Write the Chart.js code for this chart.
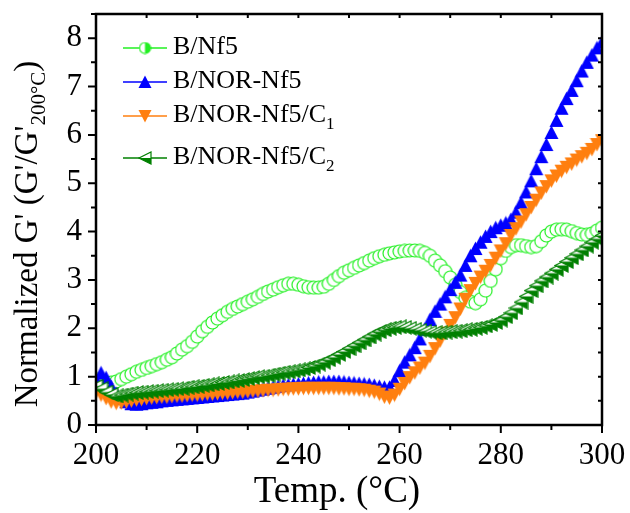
<!DOCTYPE html>
<html>
<head>
<meta charset="utf-8">
<title>Normalized G' vs temperature</title>
<script src="https://cdn.jsdelivr.net/npm/chart.js@4.4.0/dist/chart.umd.min.js"></script>
<style>
    html, body { margin: 0; padding: 0; background: #fff; }
    #wrap { width: 630px; height: 513px; }
</style>
</head>
<body>
<div id="wrap"><canvas id="modulusChart" width="630" height="513"></canvas></div>
<script>
// Temperature sweep, one reading per degree
const temps = Array.from({ length: 101 }, (_, i) => 200 + i);

const xTicks = [200, 220, 240, 260, 280, 300];
const yTicks = [0, 1, 2, 3, 4, 5, 6, 7, 8];

const seriesNames = ['B/Nf5', 'B/NOR-Nf5', 'B/NOR-Nf5/C', 'B/NOR-Nf5/C'];
const seriesSubs = ['', '', '1', '2'];

const bNf5 = [
    0.95, 0.92, 0.88, 0.88, 0.90, 0.95, 1.00, 1.05, 1.10, 1.14,
    1.18, 1.22, 1.26, 1.30, 1.35, 1.40, 1.48, 1.56, 1.63, 1.72,
    1.83, 1.94, 2.03, 2.12, 2.20, 2.27, 2.34, 2.40, 2.45, 2.50,
    2.55, 2.60, 2.65, 2.71, 2.76, 2.80, 2.85, 2.89, 2.92, 2.92,
    2.90, 2.87, 2.85, 2.84, 2.84, 2.86, 2.92, 3.00, 3.08, 3.15,
    3.20, 3.25, 3.30, 3.35, 3.40, 3.45, 3.49, 3.52, 3.55, 3.57,
    3.59, 3.60, 3.61, 3.61, 3.60, 3.56, 3.50, 3.40, 3.30, 3.18,
    3.05, 2.90, 2.75, 2.63, 2.55, 2.52, 2.60, 2.78, 2.98, 3.22,
    3.45, 3.60, 3.68, 3.72, 3.72, 3.70, 3.68, 3.70, 3.80, 3.92,
    4.00, 4.04, 4.05, 4.04, 4.01, 3.97, 3.94, 3.93, 3.96, 4.02,
    4.08
];

const bNorNf5 = [
    0.95, 1.08, 0.98, 0.80, 0.65, 0.55, 0.48, 0.44, 0.43, 0.44,
    0.46, 0.47, 0.48, 0.50, 0.51, 0.52, 0.53, 0.54, 0.55, 0.56,
    0.57, 0.58, 0.59, 0.60, 0.61, 0.62, 0.63, 0.64, 0.65, 0.66,
    0.68, 0.70, 0.72, 0.74, 0.76, 0.78, 0.80, 0.82, 0.83, 0.84,
    0.85, 0.86, 0.87, 0.88, 0.89, 0.89, 0.90, 0.90, 0.90, 0.89,
    0.88, 0.87, 0.86, 0.85, 0.84, 0.82, 0.80, 0.78, 0.78, 0.92,
    1.12, 1.30, 1.45, 1.60, 1.78, 1.98, 2.18, 2.35, 2.50, 2.65,
    2.80, 2.95, 3.10, 3.30, 3.50, 3.65, 3.78, 3.90, 4.00, 4.08,
    4.13, 4.18, 4.25, 4.40, 4.60, 4.82, 5.05, 5.30, 5.55, 5.80,
    6.05, 6.30, 6.55, 6.75, 6.92, 7.12, 7.32, 7.50, 7.65, 7.80,
    7.92
];

const bNorNf5C1 = [
    0.68, 0.62, 0.55, 0.48, 0.45, 0.46, 0.48, 0.50, 0.52, 0.53,
    0.55, 0.56, 0.57, 0.58, 0.58, 0.59, 0.60, 0.60, 0.61, 0.62,
    0.62, 0.63, 0.64, 0.64, 0.65, 0.66, 0.66, 0.67, 0.68, 0.68,
    0.69, 0.70, 0.70, 0.71, 0.72, 0.72, 0.73, 0.74, 0.74, 0.75,
    0.75, 0.76, 0.76, 0.76, 0.76, 0.76, 0.76, 0.76, 0.75, 0.75,
    0.74, 0.74, 0.73, 0.72, 0.70, 0.68, 0.64, 0.58, 0.56, 0.62,
    0.74, 0.86, 0.98, 1.08, 1.18, 1.28, 1.42, 1.58, 1.74, 1.90,
    2.06, 2.22, 2.40, 2.60, 2.78, 2.93, 3.06, 3.18, 3.30, 3.45,
    3.60, 3.75, 3.92, 4.06, 4.20, 4.35, 4.50, 4.65, 4.80, 4.93,
    5.05, 5.15, 5.25, 5.33, 5.40, 5.48, 5.55, 5.62, 5.70, 5.80,
    5.88
];

const bNorNf5C2 = [
    0.80, 0.75, 0.68, 0.63, 0.60, 0.62, 0.64, 0.66, 0.67, 0.68,
    0.69, 0.70, 0.71, 0.72, 0.73, 0.74, 0.75, 0.76, 0.78, 0.79,
    0.80, 0.82, 0.83, 0.85, 0.86, 0.88, 0.89, 0.91, 0.92, 0.94,
    0.96, 0.98, 1.00, 1.01, 1.03, 1.05, 1.07, 1.09, 1.10, 1.12,
    1.14, 1.16, 1.19, 1.22, 1.26, 1.30, 1.35, 1.40, 1.46, 1.52,
    1.58, 1.64, 1.70, 1.76, 1.82, 1.88, 1.93, 1.97, 2.00, 2.02,
    2.03, 2.02, 2.00, 1.98, 1.96, 1.94, 1.92, 1.91, 1.91, 1.92,
    1.93, 1.94, 1.95, 1.97, 1.98, 2.00, 2.02, 2.05, 2.08, 2.12,
    2.17, 2.24, 2.32, 2.42, 2.54, 2.66, 2.78, 2.88, 2.98, 3.06,
    3.14, 3.22, 3.30, 3.38, 3.46, 3.54, 3.62, 3.70, 3.78, 3.85,
    3.92
];

const colors = ['#22f022', '#0000ff', '#ff7f0f', '#008000'];
const SERIF = '"Liberation Serif", "Times New Roman", serif';

// Marker sprites drawn once and handed to Chart.js as pointStyle
function makeMarker(size, draw) {
    const c = document.createElement('canvas');
    c.width = size;
    c.height = size;
    draw(c.getContext('2d'), size);
    return c;
}

function circleMarker(size, halfFill) {
    return makeMarker(size, function(ctx, s) {
        const c = s / 2, r = s / 2 - 1;
        ctx.fillStyle = '#fff';
        ctx.beginPath(); ctx.arc(c, c, r, 0, Math.PI * 2); ctx.fill();
        if (halfFill) {
            ctx.fillStyle = colors[0];
            ctx.beginPath(); ctx.arc(c, c, r, -Math.PI / 2, Math.PI / 2); ctx.closePath(); ctx.fill();
        }
        ctx.strokeStyle = colors[0]; ctx.lineWidth = 1.2;
        ctx.beginPath(); ctx.arc(c, c, r, 0, Math.PI * 2); ctx.stroke();
    });
}

function triUp(size) {
    return makeMarker(size, function(ctx, s) {
        ctx.fillStyle = colors[1];
        ctx.beginPath(); ctx.moveTo(s / 2, 0.5); ctx.lineTo(s - 0.5, s - 1); ctx.lineTo(0.5, s - 1); ctx.closePath(); ctx.fill();
    });
}

function triDown(size) {
    return makeMarker(size, function(ctx, s) {
        ctx.fillStyle = colors[2];
        ctx.beginPath(); ctx.moveTo(0.5, 1); ctx.lineTo(s - 0.5, 1); ctx.lineTo(s / 2, s - 0.5); ctx.closePath(); ctx.fill();
    });
}

function triLeftHalf(size) {
    return makeMarker(size, function(ctx, s) {
        const m = s / 2;
        ctx.fillStyle = '#fff';
        ctx.beginPath(); ctx.moveTo(1, m); ctx.lineTo(s - 1, 1); ctx.lineTo(s - 1, s - 1); ctx.closePath(); ctx.fill();
        ctx.fillStyle = colors[3];
        ctx.beginPath(); ctx.moveTo(1, m); ctx.lineTo(s - 1, m); ctx.lineTo(s - 1, s - 1); ctx.closePath(); ctx.fill();
        ctx.strokeStyle = colors[3]; ctx.lineWidth = 1.2;
        ctx.beginPath(); ctx.moveTo(1, m); ctx.lineTo(s - 1, 1); ctx.lineTo(s - 1, s - 1); ctx.closePath(); ctx.stroke();
    });
}

const plotMarkers = [circleMarker(15, false), triUp(15), triDown(15), triLeftHalf(15)];
const legendMarkers = [circleMarker(13, true), triUp(14), triDown(14), triLeftHalf(14)];

function toPoints(values) {
    return temps.map((t, i) => ({ x: t, y: values[i] }));
}

// Frame, minor/major tick marks, axis titles and the inset legend
const decorations = {
    id: 'decorations',
    afterDatasetsDraw(chart) {
        const ctx = chart.ctx;
        const area = chart.chartArea;
        const xs = chart.scales.x;
        const ys = chart.scales.y;
        ctx.save();
        ctx.strokeStyle = '#000';
        ctx.lineWidth = 2.5;
        ctx.strokeRect(area.left, area.top, area.right - area.left, area.bottom - area.top);

        ctx.lineWidth = 2;
        ctx.beginPath();
        for (let t = 200; t <= 300; t += 10) {
            const px = xs.getPixelForValue(t);
            const major = t % 20 === 0;
            ctx.moveTo(px, area.bottom);
            ctx.lineTo(px, area.bottom + (major ? 8 : 5));
            ctx.moveTo(px, area.top);
            ctx.lineTo(px, area.top + 4);
        }
        for (let v = 0; v <= 8.5; v += 0.5) {
            const py = ys.getPixelForValue(v);
            const major = v % 1 === 0;
            ctx.moveTo(area.left, py);
            ctx.lineTo(area.left - (major ? 8 : 5), py);
            ctx.moveTo(area.right, py);
            ctx.lineTo(area.right - 4, py);
        }
        ctx.stroke();

        // x title
        ctx.fillStyle = '#000';
        ctx.font = '37px ' + SERIF;
        ctx.textAlign = 'center';
        ctx.textBaseline = 'middle';
        ctx.fillText('Temp. (°C)', 337, 492);

        // y title with subscript, rotated
        const main = "Normalized G' (G'/G'";
        const sub = '200°C';
        const tail = ')';
        ctx.font = '33px ' + SERIF;
        const wMain = ctx.measureText(main).width;
        const wTail = ctx.measureText(tail).width;
        ctx.font = '21px ' + SERIF;
        const wSub = ctx.measureText(sub).width;
        const total = wMain + wSub + wTail;
        ctx.translate(37, 234);
        ctx.rotate(-Math.PI / 2);
        ctx.textAlign = 'left';
        ctx.textBaseline = 'alphabetic';
        const x0 = -total / 2;
        ctx.font = '33px ' + SERIF;
        ctx.fillText(main, x0, 0);
        ctx.font = '21px ' + SERIF;
        ctx.fillText(sub, x0 + wMain, 8);
        ctx.font = '33px ' + SERIF;
        ctx.fillText(tail, x0 + wMain + wSub, 0);
        ctx.restore();

        // legend
        const rowY = [48, 82, 116, 158];
        ctx.save();
        ctx.textAlign = 'left';
        ctx.textBaseline = 'middle';
        seriesNames.forEach(function(name, i) {
            const y = rowY[i];
            const mk = legendMarkers[i];
            ctx.strokeStyle = colors[i];
            ctx.lineWidth = 1.5;
            ctx.beginPath();
            ctx.moveTo(123, y);
            ctx.lineTo(167, y);
            ctx.stroke();
            ctx.drawImage(mk, 145 - mk.width / 2, y - mk.height / 2);
            ctx.fillStyle = '#000';
            ctx.font = '26px ' + SERIF;
            ctx.fillText(name, 173, y - 1);
            if (seriesSubs[i]) {
                const w = ctx.measureText(name).width;
                ctx.font = '17px ' + SERIF;
                ctx.fillText(seriesSubs[i], 173 + w, y + 9);
            }
        });
        ctx.restore();
    }
};

const seriesValues = [bNf5, bNorNf5, bNorNf5C1, bNorNf5C2];

new Chart(document.getElementById('modulusChart'), {
    type: 'scatter',
    data: {
        datasets: seriesValues.map(function(values, i) {
            return {
                label: seriesNames[i] + seriesSubs[i],
                data: toPoints(values),
                pointStyle: plotMarkers[i],
                pointRadius: 7,
                pointHoverRadius: 7,
                order: 4 - i
            };
        })
    },
    options: {
        responsive: false,
        animation: false,
        events: [],
        layout: { padding: { top: 14, right: 28, left: 0, bottom: 0 } },
        plugins: {
            legend: { display: false },
            tooltip: { enabled: false }
        },
        scales: {
            x: {
                type: 'linear',
                min: 200,
                max: 300,
                grid: { display: false, drawTicks: false },
                border: { display: false },
                afterBuildTicks: function(scale) { scale.ticks = xTicks.map(v => ({ value: v })); },
                afterFit: function(scale) {
                    scale.height = 88;
                    scale.paddingLeft = 0;
                    scale.paddingRight = 0;
                },
                ticks: {
                    color: '#000',
                    font: { family: SERIF, size: 31 },
                    padding: 12,
                    maxRotation: 0
                }
            },
            y: {
                min: 0,
                max: 8.5,
                grid: { display: false, drawTicks: false },
                border: { display: false },
                afterBuildTicks: function(scale) { scale.ticks = yTicks.map(v => ({ value: v })); },
                afterFit: function(scale) {
                    scale.width = 96;
                    scale.paddingTop = 0;
                    scale.paddingBottom = 0;
                },
                ticks: {
                    color: '#000',
                    font: { family: SERIF, size: 31 },
                    padding: 14
                }
            }
        }
    },
    plugins: [decorations]
});
</script>
</body>
</html>
